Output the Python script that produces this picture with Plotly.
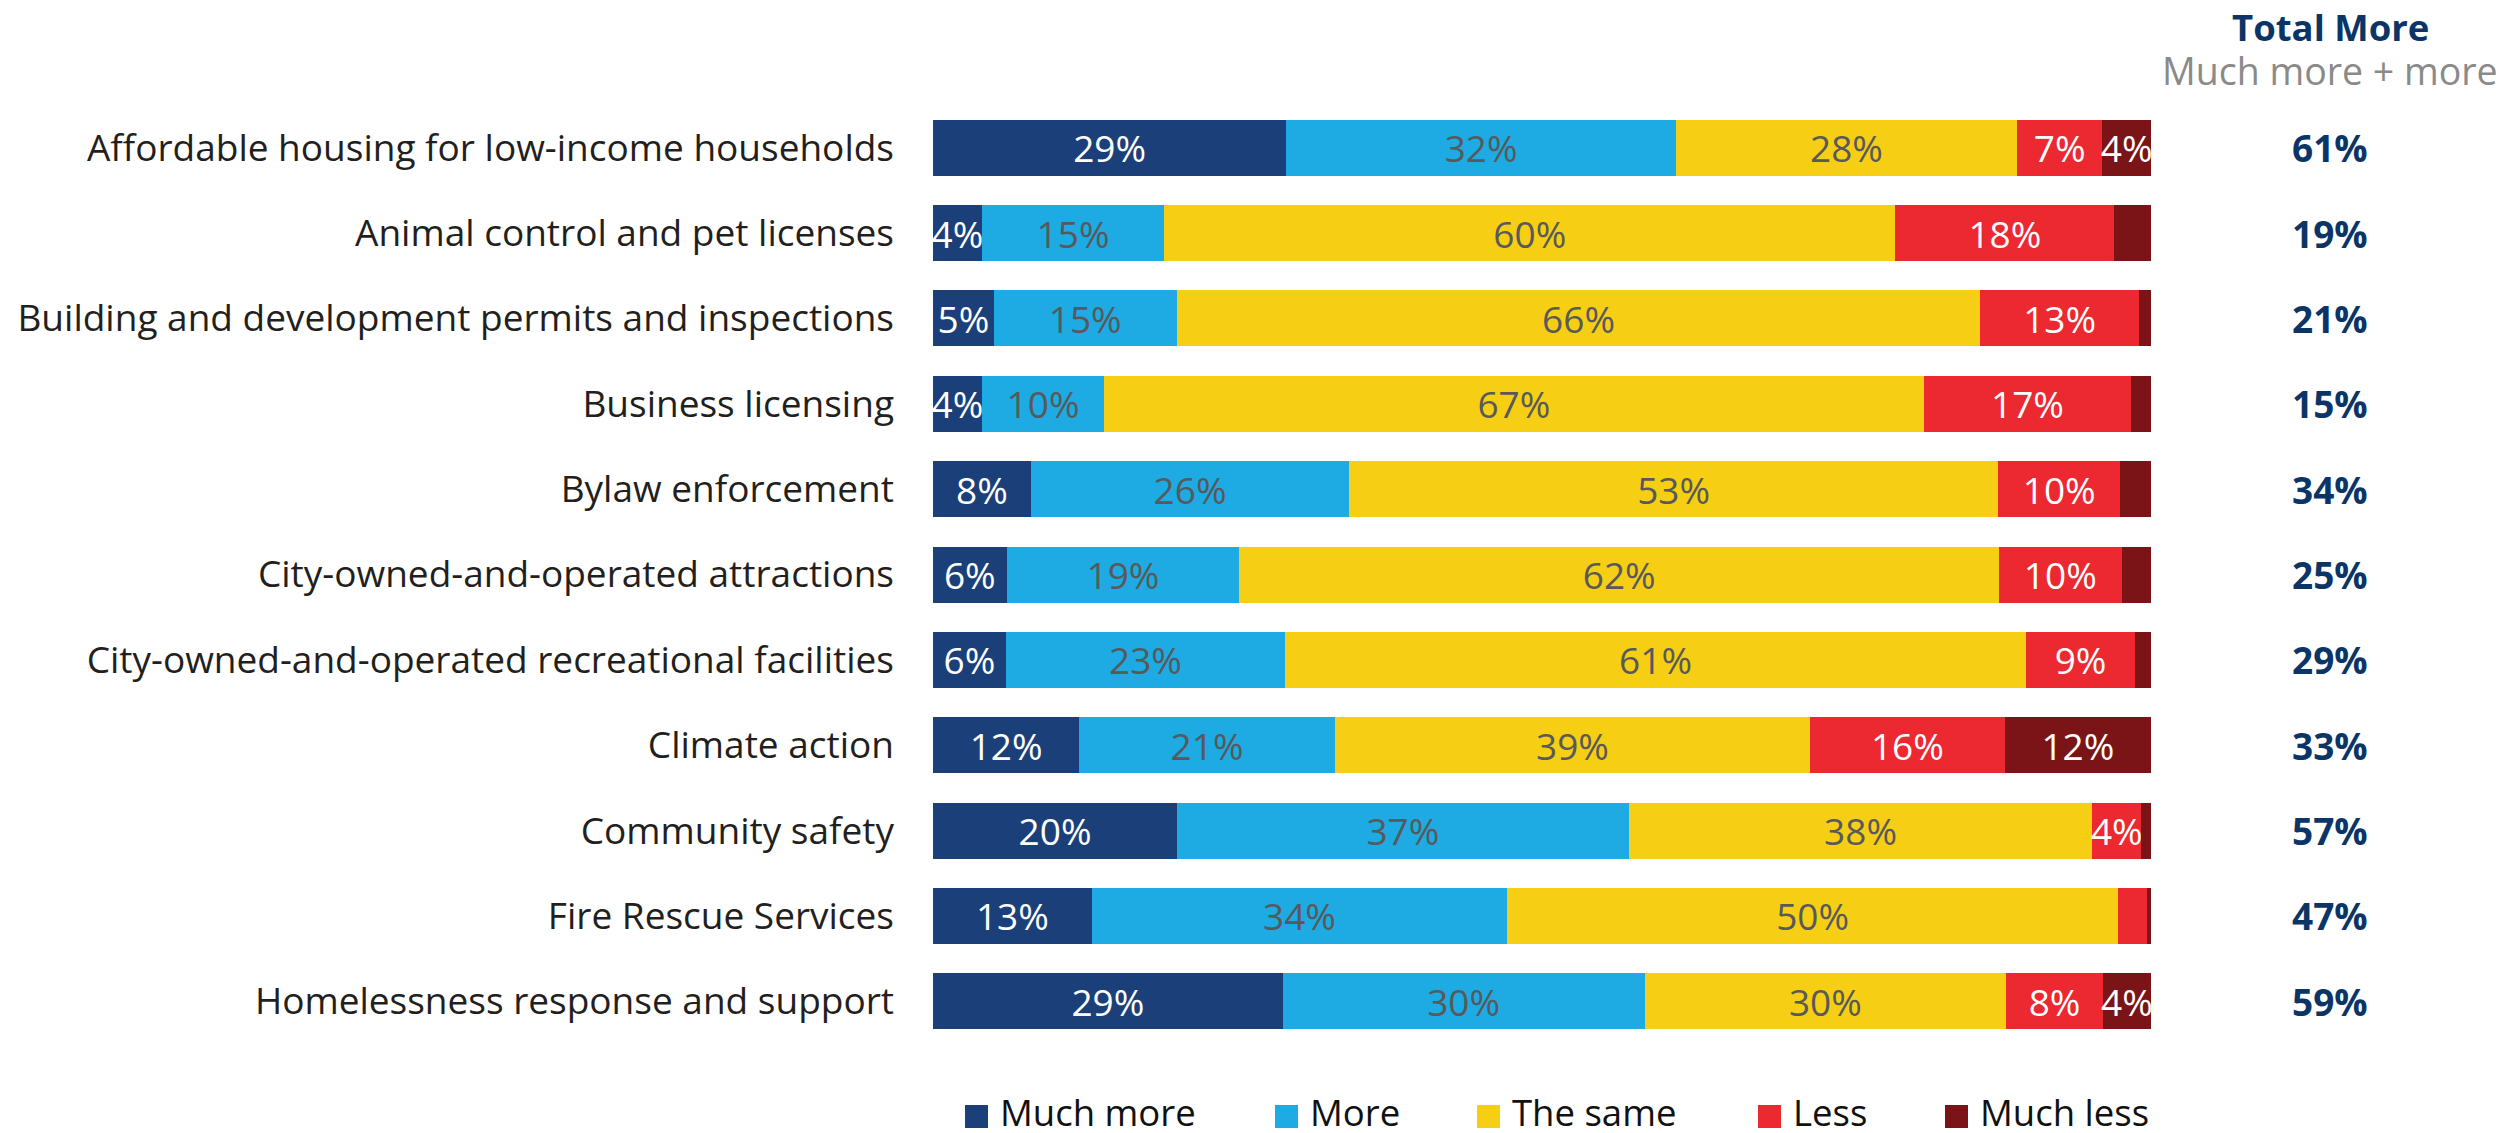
import plotly.graph_objects as go

categories = [
    "Affordable housing for low-income households",
    "Animal control and pet licenses",
    "Building and development permits and inspections",
    "Business licensing",
    "Bylaw enforcement",
    "City-owned-and-operated attractions",
    "City-owned-and-operated recreational facilities",
    "Climate action",
    "Community safety",
    "Fire Rescue Services",
    "Homelessness response and support",
]

much_more = [29, 4, 5, 4, 8, 6, 6, 12, 20, 13, 29]
more = [32, 15, 15, 10, 26, 19, 23, 21, 37, 34, 30]
the_same = [28, 60, 66, 67, 53, 62, 61, 39, 38, 50, 30]
less = [7, 18, 13, 17, 10, 10, 9, 16, 4, 2.4, 8]
much_less = [4, 3, 1, 1.6, 2.5, 2.4, 1.3, 12, 0.8, 0.3, 4]

total_more = [61, 19, 21, 15, 34, 25, 29, 33, 57, 47, 59]

series_names = ["Much more", "More", "The same", "Less", "Much less"]
series_values = [much_more, more, the_same, less, much_less]
series_colors = ["#1b4079", "#1eabe3", "#f6cf14", "#ec2830", "#7a1416"]
text_colors = ["#ffffff", "#58595b", "#58595b", "#ffffff", "#ffffff"]

FONT = "Open Sans"
OFF = 8  # page body margin
W, H = 2504 - OFF, 1133 - OFF
# plot area in page pixels
L, R = 933 - OFF, 2151 - OFF
T, B = 105 - OFF, 1044 - OFF

def px_x(x):
    return (x - OFF - L) / (R - L)

def px_y(y):
    return (B - (y - OFF)) / (B - T)

fig = go.Figure()
for name, vals, col, tcol in zip(series_names, series_values, series_colors, text_colors):
    fig.add_trace(go.Bar(
        y=categories,
        x=vals,
        name=name,
        orientation="h",
        marker=dict(color=col, line=dict(width=0)),
        text=[f"{round(v)}%" if v >= 3.5 else "" for v in vals],
        textposition="inside",
        insidetextanchor="middle",
        textangle=0,
        constraintext="none",
        textfont=dict(family=FONT, size=37, color=tcol),
        width=0.656,
        showlegend=False,
        cliponaxis=False,
        hoverinfo="skip",
    ))

annotations = []
for cat, tot in zip(categories, total_more):
    annotations.append(dict(
        xref="paper", yref="y", x=px_x(2330), y=cat,
        text=f"<b>{tot}%</b>", showarrow=False, xanchor="center", yanchor="middle",
        font=dict(family=FONT, size=37, color="#0c3567"),
    ))

annotations.append(dict(
    xref="paper", yref="paper", x=px_x(2330), y=px_y(27),
    text="<b>Total More</b>", showarrow=False, xanchor="center", yanchor="middle",
    height=38, valign="middle",
    font=dict(family=FONT, size=36.5, color="#0c3567"),
))
annotations.append(dict(
    xref="paper", yref="paper", x=px_x(2330), y=px_y(70),
    text="Much more + more", showarrow=False, xanchor="center", yanchor="middle",
    height=40, valign="middle",
    font=dict(family=FONT, size=37.5, color="#8a8a8a"),
))

# custom legend
legend_marker_x = [965, 1275, 1477, 1758, 1945]
shapes = []
for name, col, mx in zip(series_names, series_colors, legend_marker_x):
    shapes.append(dict(
        type="rect", xref="paper", yref="paper",
        x0=px_x(mx), x1=px_x(mx + 23), y0=px_y(1105), y1=px_y(1128),
        fillcolor=col, line=dict(width=0),
    ))
    annotations.append(dict(
        xref="paper", yref="paper", x=px_x(mx + 33), y=px_y(1112),
        text=name, showarrow=False, xanchor="left", yanchor="middle",
        height=40, valign="middle",
        font=dict(family=FONT, size=36.5, color="#111111"),
    ))

fig.update_layout(
    barmode="stack",
    barnorm="percent",
    width=W, height=H,
    margin=dict(l=L, r=W - R, t=T, b=H - B, pad=0, autoexpand=False),
    paper_bgcolor="white",
    plot_bgcolor="white",
    font=dict(family=FONT),
    xaxis=dict(range=[0, 100], visible=False, fixedrange=True, automargin=False),
    yaxis=dict(
        autorange="reversed",
        automargin=False,
        showgrid=False, zeroline=False, showline=False,
        ticks="", ticklabelstandoff=38,
        tickfont=dict(family=FONT, size=37, color="#231f20"),
    ),
    annotations=annotations,
    shapes=shapes,
    showlegend=False,
)

fig.write_html("out.html")
